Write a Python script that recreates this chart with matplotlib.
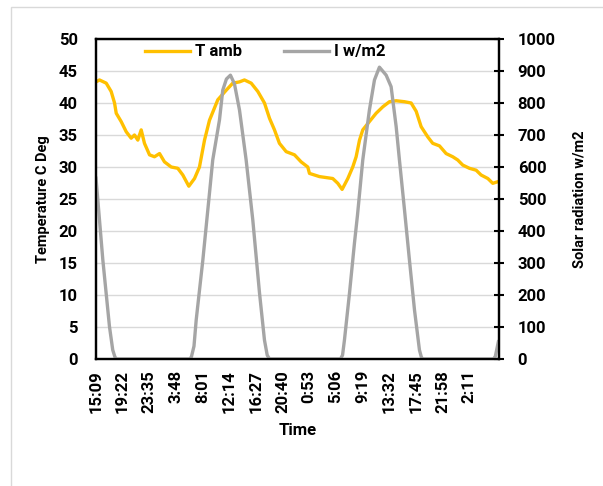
import matplotlib
matplotlib.use('Agg')
import matplotlib.pyplot as plt
from matplotlib.patches import Rectangle

# Ambient temperature (minutes since 15:09 start, deg C)
temp_min = [0, 33, 97, 144, 176, 192, 239, 287, 334, 365, 397, 429, 460, 508, 555, 603,
            650, 714, 776, 824, 881, 935, 982, 1030, 1077, 1156, 1236, 1298, 1362, 1409,
            1473, 1536, 1599, 1647, 1694, 1741, 1805, 1884, 1947, 2010, 2026, 2121, 2247,
            2295, 2336, 2390, 2437, 2469, 2501, 2532, 2595, 2659, 2722, 2785, 2849, 2928,
            2991, 3039, 3086, 3149, 3196, 3260, 3323, 3386, 3433, 3481, 3544, 3608, 3655,
            3719, 3766, 3813]
temp_val = [43.3, 43.6, 43.1, 41.8, 40.0, 38.4, 37.1, 35.5, 34.5, 35.0, 34.2, 35.8, 33.7,
            31.9, 31.6, 32.1, 30.8, 30.0, 29.8, 28.75, 27.0, 28.2, 30.0, 34.2, 37.3, 40.5,
            42.0, 43.1, 43.3, 43.6, 43.1, 41.8, 40.0, 37.6, 35.8, 33.7, 32.4, 31.9, 30.8,
            30.0, 29.0, 28.5, 28.2, 27.45, 26.5, 28.2, 30.0, 31.6, 34.2, 35.8, 37.1, 38.4,
            39.4, 40.2, 40.35, 40.2, 40.0, 38.7, 36.3, 34.7, 33.7, 33.3, 32.1, 31.6, 31.1,
            30.3, 29.8, 29.5, 28.75, 28.2, 27.45, 27.7]

# Solar radiation (minutes since start, W/m2)
rad_min = [0, 65, 128, 159, 180, 195, 887, 905, 930, 951, 1014, 1077, 1108, 1172, 1203,
           1238, 1276, 1314, 1362, 1425, 1488, 1552, 1599, 1625, 1647, 2320, 2340, 2358,
           2406, 2453, 2482, 2532, 2595, 2643, 2690, 2754, 2801, 2849, 2880, 2928, 2975,
           3023, 3070, 3088, 3101, 3772, 3790, 3819]
rad_val = [565, 309, 101, 28, 6, 0, 0, 6, 40, 122, 309, 518, 622, 747, 840, 875, 887, 860,
           778, 622, 435, 206, 59, 12, 0, 0, 12, 59, 206, 362, 450, 622, 778, 872, 912, 887,
           851, 726, 622, 466, 309, 153, 28, 6, 0, 0, 8, 54]

tick_pos = [0, 253, 506, 759, 1012, 1265, 1518, 1771, 2024, 2277, 2530, 2783, 3036, 3289, 3542]
tick_lbl = ['15:09', '19:22', '23:35', '3:48', '8:01', '12:14', '16:27', '20:40', '0:53',
            '5:06', '9:19', '13:32', '17:45', '21:58', '2:11']

plt.rcParams['font.family'] = ['Roboto', 'DejaVu Sans']
plt.rcParams['font.weight'] = 'bold'

fig = plt.figure(figsize=(6.03, 4.86), dpi=100)
fig.patches.append(Rectangle((11 / 603, -0.1), 1.2, 1 - 7 / 486 + 0.1, transform=fig.transFigure,
                             fill=False, edgecolor='#d9d9d9', linewidth=1))
ax = fig.add_axes([96 / 603, 1 - 359 / 486, 403 / 603, 320 / 486])
ax2 = ax.twinx()

l1, = ax.plot(temp_min, temp_val, color='#FFC000', linewidth=2.4, label='T amb')
l2, = ax2.plot(rad_min, rad_val, color='#A5A5A5', linewidth=2.4, label='I w/m2')

ax.set_xlim(0, 3825)
ax.set_ylim(0, 50)
ax2.set_ylim(0, 1000)
ax.set_yticks(range(0, 51, 5))
ax2.set_yticks(range(0, 1001, 100))
ax.set_xticks(tick_pos)
ax.set_xticklabels(tick_lbl, rotation=90, fontsize=12, fontweight='bold')
ax.grid(axis='y', color='#d9d9d9', linewidth=1)
ax.set_axisbelow(True)

ax.tick_params(axis='y', length=0, labelsize=12, pad=13)
ax.tick_params(axis='x', length=0, pad=8)
ax2.tick_params(axis='y', direction='inout', length=7, width=1.5, labelsize=12, pad=10)
for a in (ax, ax2):
    for s in a.spines.values():
        s.set_linewidth(1.6)
        s.set_color('black')
for lbl in ax.get_yticklabels() + ax2.get_yticklabels():
    lbl.set_fontweight('bold')

ax.set_ylabel('Temperature C Deg', fontsize=10.5, fontweight='bold', labelpad=6)
ax2.set_ylabel('Solar radiation w/m2', fontsize=10.5, fontweight='bold', labelpad=12)
ax.set_xlabel('Time', fontsize=12, fontweight='bold', labelpad=7)

ax.legend(handles=[l1, l2], loc='upper center', ncol=2, frameon=False,
          prop={'size': 12, 'weight': 'bold'},
          bbox_to_anchor=(0.42, 1.03), handlelength=2.7, columnspacing=2.5, handletextpad=0.3)

fig.savefig('out.png', dpi=100)
